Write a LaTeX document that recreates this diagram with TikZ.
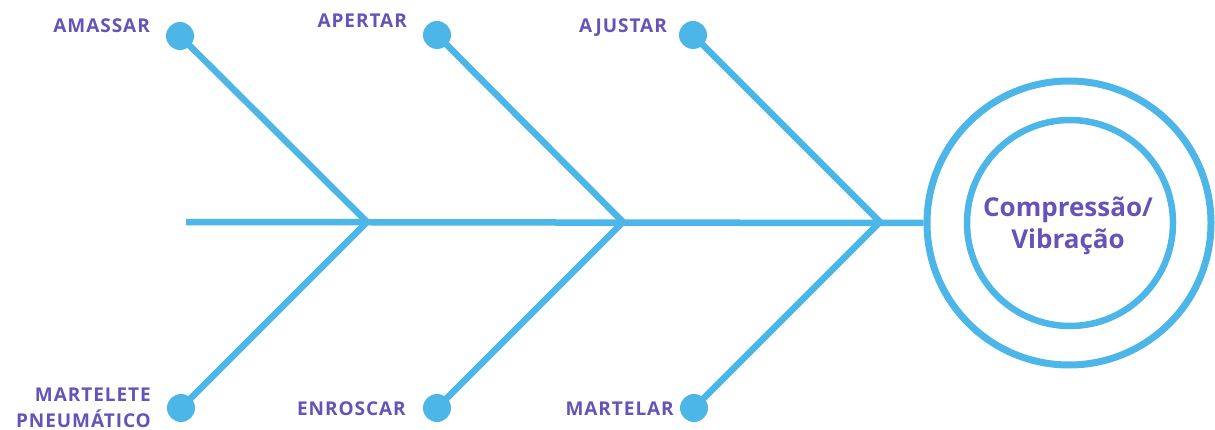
\documentclass[tikz,border=0pt]{standalone}
\usepackage{fontspec}
\setmainfont{Open Sans}
\newfontfamily\lblfont[LetterSpace=5]{Open Sans Bold}
\newfontfamily\ctrfont{Open Sans Bold}
\definecolor{fishblue}{HTML}{4DB6E8}
\definecolor{lblpurple}{HTML}{6652B8}
\begin{document}
\begin{tikzpicture}[x=1pt,y=-1pt,
  bone/.style={draw=fishblue,line width=6.5pt},
  dot/.style={circle,fill=fishblue,inner sep=0pt,minimum size=28pt},
  lbl/.style={text=lblpurple,font=\lblfont\fontsize{19}{24}\selectfont,inner sep=0pt,align=right},
  ring/.style={circle,draw=fishblue,inner sep=0pt}]
\useasboundingbox (0,0) rectangle (1215,430);
% head
\node[ring,line width=7pt,minimum size=284pt] (outer) at (1069,223) {};
\node[ring,line width=6.5pt,minimum size=206pt] (inner) at (1070,223) {};
\node[text=lblpurple,font=\ctrfont\fontsize{26}{32}\selectfont,align=center,inner sep=0pt] (head) at (1068,226) {Compressão/\\Vibração};
% spine
\coordinate (tail) at (186,222);
\coordinate (j1) at (367,222);
\coordinate (j2) at (623,222);
\coordinate (j3) at (880,222);
\draw[bone] (tail) -- (outer.west);
% dots
\node[dot] (d1) at (180,36) {};
\node[dot] (d2) at (437,35) {};
\node[dot] (d3) at (693,35) {};
\node[dot] (d4) at (181,408) {};
\node[dot] (d5) at (437,408) {};
\node[dot] (d6) at (694,408) {};
% bones
\draw[bone] (j1) -- (d1.center);
\draw[bone] (j2) -- (d2.center);
\draw[bone] (j3) -- (d3.center);
\draw[bone] (j1) -- (d4.center);
\draw[bone] (j2) -- (d5.center);
\draw[bone] (j3) -- (d6.center);
% labels
\node[lbl,anchor=base east] (l1) at (150,33) {AMASSAR};
\node[lbl,anchor=base east] (l2) at (407,28) {APERTAR};
\node[lbl,anchor=base east] (l3) at (667,33) {AJUSTAR};
\node[lbl,anchor=base east] (l4a) at (151,401) {MARTELETE};
\node[lbl,anchor=base east] (l4b) at (151,427) {PNEUMÁTICO};
\node[lbl,anchor=base east] (l5) at (406,415) {ENROSCAR};
\node[lbl,anchor=base east] (l6) at (674,415) {MARTELAR};
\end{tikzpicture}
\end{document}
